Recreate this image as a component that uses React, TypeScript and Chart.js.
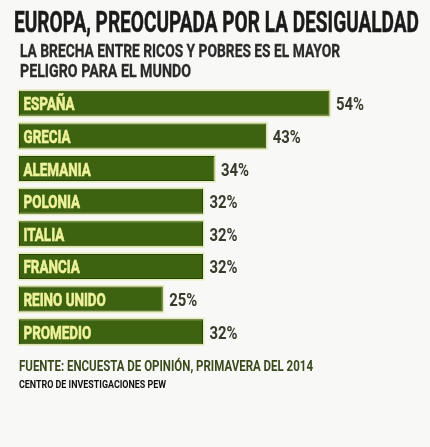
import React, { useEffect, useRef } from "react";
import { Chart, registerables } from "chart.js";

Chart.register(...registerables);

const categories = ["ESPAÑA", "GRECIA", "ALEMANIA", "POLONIA", "ITALIA", "FRANCIA", "REINO UNIDO", "PROMEDIO"];
const values = [54, 43, 34, 32, 32, 32, 25, 32];
const valueSuffix = "%";

const titleText = "EUROPA, PREOCUPADA POR LA DESIGUALDAD";
const subtitleLines = ["LA BRECHA ENTRE RICOS Y POBRES ES EL MAYOR", "PELIGRO PARA EL MUNDO"];
const sourceText = "FUENTE: ENCUESTA DE OPINIÓN, PRIMAVERA DEL 2014";
const creditText = "CENTRO DE INVESTIGACIONES PEW";

const FONT = 'Roboto, "Liberation Sans", sans-serif';
const BG = "#f8f8f6";

let measureCtx: CanvasRenderingContext2D | null = null;
function measure(text: string, font: string): number {
  if (!measureCtx) measureCtx = document.createElement("canvas").getContext("2d");
  measureCtx!.font = font;
  return measureCtx!.measureText(text).width;
}

function FitText(props: { text: string; x: number; baseline: number; size: number; width: number; color: string; weight: string; stroke?: number }) {
  const { text, x, baseline, size, width, color, weight, stroke } = props;
  const w = measure(text, `${weight} ${size}px ${FONT}`);
  const k = width / w;
  return (
    <div
      style={{
        position: "absolute",
        left: x,
        top: baseline - 0.86 * size,
        fontFamily: FONT,
        fontWeight: weight as any,
        fontSize: size,
        lineHeight: `${size}px`,
        color,
        whiteSpace: "nowrap",
        transform: `scaleX(${k})`,
        transformOrigin: "0 0",
        WebkitTextStroke: stroke ? `${stroke}px ${color}` : undefined,
      }}
    >
      {text}
    </div>
  );
}

const barDecor = {
  id: "barDecor",
  beforeDatasetsDraw(chart: any) {
    const ctx = chart.ctx;
    const meta = chart.getDatasetMeta(0);
    ctx.save();
    ctx.fillStyle = "#e4ecba";
    meta.data.forEach((bar: any) => {
      const { x, y, base, height } = bar.getProps(["x", "y", "base", "height"], true);
      ctx.fillRect(base - 1.5, y - height / 2 - 1.5, x - base + 3, height + 3);
    });
    ctx.restore();
  },
  afterDatasetsDraw(chart: any) {
    const ctx = chart.ctx;
    const meta = chart.getDatasetMeta(0);
    const font = `bold 18px ${FONT}`;
    ctx.save();
    ctx.font = font;
    const kCat = 51 / ctx.measureText(categories[0]).width;
    const kVal = 28 / ctx.measureText(values[0] + valueSuffix).width;
    ctx.restore();
    meta.data.forEach((bar: any, i: number) => {
      const { x, y, base } = bar.getProps(["x", "y", "base"], true);
      ctx.save();
      ctx.font = font;
      ctx.textBaseline = "alphabetic";
      ctx.textAlign = "left";
      ctx.fillStyle = "#eef29b";
      ctx.strokeStyle = "#eef29b";
      ctx.lineWidth = 0.6;
      ctx.translate(base + 4.5, y + 7);
      ctx.scale(kCat, 1);
      ctx.fillText(categories[i], 0, 0);
      ctx.strokeText(categories[i], 0, 0);
      ctx.restore();

      ctx.save();
      ctx.font = font;
      ctx.textBaseline = "alphabetic";
      ctx.textAlign = "left";
      ctx.fillStyle = "#363b2c";
      ctx.translate(x + 6.5, y + 7);
      ctx.scale(kVal, 1);
      ctx.fillText(values[i] + valueSuffix, 0, 0);
      ctx.restore();
    });
  },
};

function BarChart() {
  const ref = useRef<HTMLCanvasElement>(null);
  useEffect(() => {
    const chart = new Chart(ref.current!, {
      type: "bar",
      data: {
        labels: categories,
        datasets: [
          {
            data: values,
            backgroundColor: "#3e6310",
            borderColor: "#2a4307",
            borderWidth: 1,
            borderSkipped: false,
            barPercentage: 0.77,
            categoryPercentage: 1,
          },
        ],
      },
      options: {
        indexAxis: "y",
        animation: false,
        responsive: false,
        maintainAspectRatio: false,
        layout: { padding: { left: 19, right: 20, top: 87, bottom: 99 } },
        scales: {
          x: { display: false, min: 0, max: 68 },
          y: { display: false },
        },
        plugins: { legend: { display: false }, tooltip: { enabled: false } },
      },
      plugins: [barDecor],
    });
    return () => chart.destroy();
  }, []);
  return <canvas ref={ref} width={430} height={447} style={{ position: "absolute", left: 0, top: 0, width: 430, height: 447 }} />;
}

export default function App() {
  return (
    <div style={{ position: "absolute", left: 0, top: 0, width: 430, height: 447, background: BG, overflow: "hidden" }}>
      <BarChart />
      <FitText text={titleText} x={14} baseline={33} size={29} width={405} color="#1b1b1b" weight="bold" stroke={0.5} />
      <FitText text={subtitleLines[0]} x={20} baseline={57} size={18} width={320} color="#2b2b2b" weight="bold" stroke={0.3} />
      <FitText text={subtitleLines[1]} x={20} baseline={77} size={18} width={171} color="#2b2b2b" weight="bold" stroke={0.3} />
      <FitText text={sourceText} x={19} baseline={372} size={15.5} width={294} color="#3a4a1c" weight="bold" />
      <FitText text={creditText} x={19} baseline={388.5} size={11.5} width={147} color="#111111" weight="bold" />
    </div>
  );
}
